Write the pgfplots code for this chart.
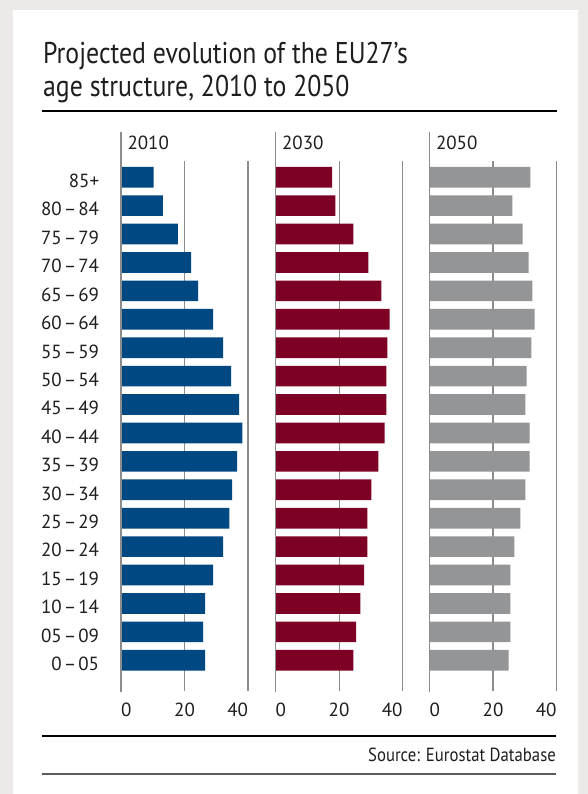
\documentclass[border=0pt]{standalone}
\usepackage{fontspec}
\setmainfont{PT Sans}
\newfontfamily\titlefam[FakeStretch=0.86]{PT Sans}
\newfontfamily\narrowfam[FakeStretch=0.88]{PT Sans}
\usepackage{pgfplots}
\pgfplotsset{compat=1.18}
\usepackage{pgfplotstable}

\definecolor{bgc}{RGB}{236,233,232}
\definecolor{txt}{RGB}{30,30,30}
\definecolor{gridc}{RGB}{140,140,140}
\definecolor{cA}{RGB}{0,72,130}
\definecolor{cB}{RGB}{125,0,37}
\definecolor{cC}{RGB}{148,149,150}
\definecolor{rule2}{RGB}{90,90,90}

\newcommand\bodyfont{\fontsize{19}{22}\selectfont}
\newcommand\titlefont{\titlefam\fontsize{30}{33}\selectfont}
\newcommand\dd{\kern2pt\textendash\kern2pt}

% k = row (0 = 0-05 at bottom, 17 = 85+ at top)
\pgfplotstableread{
k  y2010 y2030 y2050
0  26.5  24.5  24.9
1  25.9  25.4  25.5
2  26.5  26.7  25.5
3  29.0  27.9  25.5
4  32.2  28.9  26.7
5  34.1  28.9  28.6
6  35.0  30.2  30.2
7  36.6  32.4  31.5
8  38.2  34.3  31.5
9  37.2  34.9  30.2
10 34.7  34.9  30.6
11 32.2  35.2  32.1
12 29.0  35.9  33.1
13 24.3  33.3  32.4
14 22.1  29.2  31.2
15 17.9  24.5  29.3
16 13.2  18.8  26.1
17 10.3  17.8  31.8
}\agedata

\pgfplotsset{
  panel/.style={
    scale only axis, width=127pt, height=530pt,
    xmin=0, xmax=40, ymin=-1.08, ymax=17.57,
    axis line style={draw=none}, major tick length=0pt,
    xtick={0,20,40}, xticklabels={\rlap{0},20,\llap{40}},
    xmajorgrids, major grid style={draw=gridc, line width=1.2pt},
    ytick={0,...,17}, yticklabels={},
    /pgf/number format/assume math mode=true,
    xticklabel style={anchor=base, yshift=-25.7pt, inner sep=0pt, font=\bodyfont, text=txt},
    clip=false, anchor=south west,
  }
}

\begin{document}
\begin{tikzpicture}
\fill[bgc] (0,0) rectangle (588pt,-794pt);
\fill[white] (12.7pt,-10pt) rectangle (578pt,-794pt);

\node[anchor=base west, inner sep=0pt, font=\titlefont, text=txt] at (43pt,-64pt) {Projected evolution of the EU27’s};
\node[anchor=base west, inner sep=0pt, font=\titlefont, text=txt] at (43pt,-97pt) {age structure, 2010 to 2050};
\draw[black, line width=1.5pt] (41.7pt,-111pt) -- (557pt,-111pt);

\begin{axis}[panel, at={(121pt,-691pt)},
  yticklabels={0\dd05,05\dd09,10\dd14,15\dd19,20\dd24,25\dd29,30\dd34,35\dd39,40\dd44,45\dd49,50\dd54,55\dd59,60\dd64,65\dd69,70\dd74,75\dd79,80\dd84,85+},
  yticklabel style={anchor=base east, inner sep=0pt, xshift=-21.7pt, yshift=-10.35pt, font=\bodyfont, text=txt}]
  \addplot[xbar, bar width=20.7pt, fill=cA, draw=none] table[x=y2010, y=k] {\agedata};
  \draw[gridc, line width=1.2pt] (axis cs:0,-1.12) -- (axis cs:0,18.59);
  \node[anchor=base west, inner sep=0pt, font=\bodyfont, text=txt, xshift=6.3pt, yshift=11.7pt] at (rel axis cs:0,1) {2010};
\end{axis}

\begin{axis}[panel, at={(275.6pt,-691pt)}]
  \addplot[xbar, bar width=20.7pt, fill=cB, draw=none] table[x=y2030, y=k] {\agedata};
  \draw[gridc, line width=1.2pt] (axis cs:0,-1.12) -- (axis cs:0,18.59);
  \node[anchor=base west, inner sep=0pt, font=\bodyfont, text=txt, xshift=6.3pt, yshift=11.7pt] at (rel axis cs:0,1) {2030};
\end{axis}

\begin{axis}[panel, at={(429.5pt,-691pt)}]
  \addplot[xbar, bar width=20.7pt, fill=cC, draw=none] table[x=y2050, y=k] {\agedata};
  \draw[gridc, line width=1.2pt] (axis cs:0,-1.12) -- (axis cs:0,18.59);
  \node[anchor=base west, inner sep=0pt, font=\bodyfont, text=txt, xshift=6.3pt, yshift=11.7pt] at (rel axis cs:0,1) {2050};
\end{axis}

\draw[black, line width=1.3pt] (41.7pt,-736pt) -- (556pt,-736pt);
\node[anchor=base east, inner sep=0pt, font=\narrowfam\bodyfont, text=txt] at (556pt,-761pt) {Source: Eurostat Database};
\draw[rule2, line width=1.5pt] (41.7pt,-774pt) -- (556pt,-774pt);

\pgfresetboundingbox
\useasboundingbox (0,0) rectangle (588pt,-794pt);
\end{tikzpicture}
\end{document}
